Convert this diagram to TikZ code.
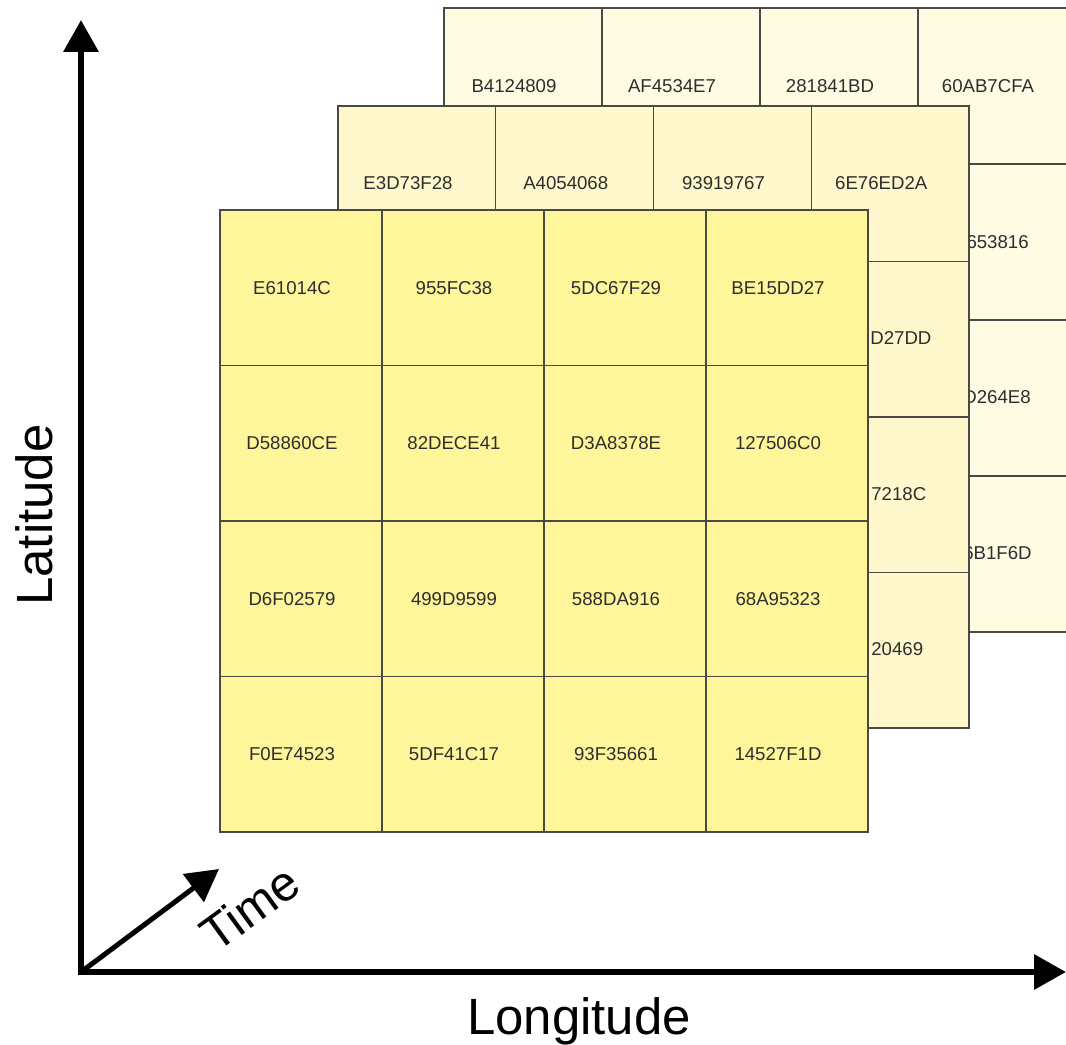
\documentclass[tikz,border=0pt]{standalone}
\usepackage{fontspec}
\setmainfont{Liberation Sans}
\usepackage{xcolor}
\usepackage{tikz}
\usetikzlibrary{arrows.meta}

\definecolor{backfill}{HTML}{FFFCE3}
\definecolor{midfill}{HTML}{FFF8CC}
\definecolor{frontfill}{HTML}{FFF59B}
\definecolor{gridline}{HTML}{4A4A42}
\definecolor{hexink}{HTML}{2E2E2E}

\tikzset{
	cell/.style={draw=gridline,line width=0.6pt},
	hex/.style={text=hexink,font=\fontsize{10.6}{12}\selectfont,inner sep=0pt},
	axislabel/.style={font=\fontsize{29}{34}\selectfont,inner sep=0pt},
	axistip/.tip={Triangle[length=0.64cm,width=0.68cm]}
}

\begin{document}
\begin{tikzpicture}[x=0.02cm,y=-0.02cm]
		\useasboundingbox (0,0) rectangle (1066,1045);
		\clip (0,0) rectangle (1066,1045);
		%
		% back layer
		\fill[backfill] (444,8) rectangle (1076,632);
		\foreach \i in {0,...,3}
			\foreach \j in {0,...,3}
				\draw[cell] ({444+158*\i},{8+156*\j}) rectangle ++(158,156);
		\foreach \txt [count=\i from 0] in {B4124809,AF4534E7,281841BD,60AB7CFA}
			\node[hex] (b\i) at ({444+158*\i+70},86) {\txt};
		\node[hex,anchor=east] (b4) at (1029,242) {653816};
		\node[hex,anchor=east] (b5) at (1031,397) {D264E8};
		\node[hex,anchor=east] (b6) at (1032,553) {6B1F6D};
		%
		% middle layer
		\fill[midfill] (338,106) rectangle (969,728);
		\foreach \i in {0,...,3}
			\foreach \j in {0,...,3}
				\draw[cell] ({338+157.75*\i},{106+155.5*\j}) rectangle ++(157.75,155.5);
		\foreach \txt [count=\i from 0] in {E3D73F28,A4054068,93919767,6E76ED2A}
			\node[hex] (m\i) at ({338+157.75*\i+70},183) {\txt};
		\node[hex,anchor=west] (m4) at (870,338) {D27DD};
		\node[hex,anchor=west] (m5) at (871,494) {7218C};
		\node[hex,anchor=west] (m6) at (871,649) {20469};
		%
		% front layer
		\fill[frontfill] (220,210) rectangle (868,832);
		\foreach \i in {0,...,3}
			\foreach \j in {0,...,3}
				\draw[cell] ({220+162*\i},{210+155.5*\j}) rectangle ++(162,155.5);
		\foreach \row [count=\j from 0] in {
				{E61014C,955FC38,5DC67F29,BE15DD27},
				{D58860CE,82DECE41,D3A8378E,127506C0},
				{D6F02579,499D9599,588DA916,68A95323},
				{F0E74523,5DF41C17,93F35661,14527F1D}}
			\foreach \txt [count=\i from 0] in \row
				\node[hex] (f\j\i) at ({220+162*\i+72},{288+155.5*\j}) {\txt};
		%
		% axes
		\coordinate (O) at (81,972);
		\coordinate (lat) at (81,20);
		\coordinate (lon) at (1066,972);
		\coordinate (tm) at (219,869);
		\draw[line width=0.13cm,{axistip}-{axistip}] (lat) -- (O) -- (lon);
		\path[-{axistip},line width=0.1cm]
		(O) edge (tm);
		%
		\node[axislabel,rotate=90,anchor=base] (latlab) at (52,515) {Latitude};
		\node[axislabel,anchor=base] (lonlab) at (579,1034) {Longitude};
		\node[axislabel,rotate=36,font=\fontsize{28}{34}\selectfont] (tmlab) at (250,908) {Time};
	\end{tikzpicture}
\end{document}
